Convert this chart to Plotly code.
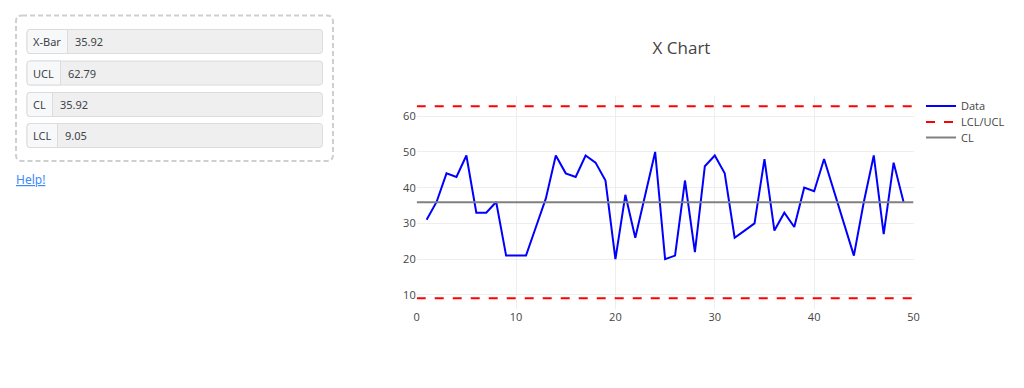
import plotly.graph_objects as go

# ---------------- data ----------------
x_vals = list(range(1, 50))
data_vals = [31, 36, 44, 43, 49, 33, 33, 36, 21, 21,
             21, 29, 37, 49, 44, 43, 49, 47, 42, 20,
             38, 26, 38, 50, 20, 21, 42, 22, 46, 49,
             44, 26, 28, 30, 48, 28, 33, 29, 40, 39,
             48, 39, 30, 21, 36, 49, 27, 47, 36]
limit_x = [0, 50]
x_bar = 35.92
ucl = 62.79
cl = 35.92
lcl = 9.05
panel_labels = ["X-Bar", "UCL", "CL", "LCL"]
panel_values = ["35.92", "62.79", "35.92", "9.05"]

W, H = 1024, 388


def px(x):
    return x / W


def py(y):
    return 1 - y / H


def rrect(x0, y0, x1, y1, r, left=True, right=True):
    """rounded rectangle path in paper coords from pixel coords"""
    rl = r if left else 0
    rr = r if right else 0
    p = []
    p.append(f"M{px(x0 + rl)},{py(y0)}")
    p.append(f"L{px(x1 - rr)},{py(y0)}")
    if rr:
        p.append(f"Q{px(x1)},{py(y0)} {px(x1)},{py(y0 + rr)}")
    p.append(f"L{px(x1)},{py(y1 - rr)}")
    if rr:
        p.append(f"Q{px(x1)},{py(y1)} {px(x1 - rr)},{py(y1)}")
    p.append(f"L{px(x0 + rl)},{py(y1)}")
    if rl:
        p.append(f"Q{px(x0)},{py(y1)} {px(x0)},{py(y1 - rl)}")
    p.append(f"L{px(x0)},{py(y0 + rl)}")
    if rl:
        p.append(f"Q{px(x0)},{py(y0)} {px(x0 + rl)},{py(y0)}")
    p.append("Z")
    return " ".join(p)


fig = go.Figure()
fig.add_trace(go.Scatter(x=x_vals, y=data_vals, mode="lines", name="Data",
                         line=dict(color="blue", width=2), legend="legend"))
fig.add_trace(go.Scatter(x=limit_x, y=[lcl, lcl], mode="lines", name="LCL/UCL",
                         line=dict(color="red", width=2, dash="dash"), legend="legend2"))
fig.add_trace(go.Scatter(x=limit_x, y=[ucl, ucl], mode="lines", name="UCL",
                         line=dict(color="red", width=2, dash="dash"),
                         showlegend=False))
fig.add_trace(go.Scatter(x=limit_x, y=[cl, cl], mode="lines", name="CL",
                         line=dict(color="grey", width=2), legend="legend3"))

shapes = []
annotations = []

# outer dashed panel
shapes.append(dict(type="path", xref="paper", yref="paper",
                   path=rrect(16, 15.5, 333, 161, 6),
                   line=dict(color="#cfcfcf", width=2, dash="5px,3px"),
                   fillcolor="rgba(0,0,0,0)", layer="above"))

rows = [(29.5, 53.5), (61, 85), (92.5, 116.5), (123.5, 147.5)]
prefix_right = [67.5, 60.5, 52.5, 57.5]
for (y0, y1), pr, lab, val in zip(rows, prefix_right, panel_labels, panel_values):
    shapes.append(dict(type="path", xref="paper", yref="paper",
                       path=rrect(27, y0, 322.5, y1, 3),
                       line=dict(color="#dcdcdc", width=1),
                       fillcolor="#efefef", layer="above"))
    shapes.append(dict(type="path", xref="paper", yref="paper",
                       path=rrect(27, y0, pr, y1, 3, right=False),
                       line=dict(color="#dcdcdc", width=1),
                       fillcolor="#f7f8f9", layer="above"))
    yc = (y0 + y1) / 2
    annotations.append(dict(x=px((27 + pr) / 2), y=py(yc), xref="paper", yref="paper",
                            text=lab, showarrow=False, xanchor="center", yanchor="middle",
                            font=dict(family="Noto Sans, sans-serif", size=11, color="#3d4349")))
    annotations.append(dict(x=px(pr + 5.5), y=py(yc), xref="paper", yref="paper",
                            text=val, showarrow=False, xanchor="left", yanchor="middle",
                            font=dict(family="Noto Sans, sans-serif", size=11, color="#3d4349")))

annotations.append(dict(x=px(14), y=py(179), xref="paper", yref="paper",
                        text="<u>Help!</u>", showarrow=False, xanchor="left", yanchor="middle",
                        font=dict(family="Noto Sans, sans-serif", size=12, color="#3d8af7")))

legend_common = dict(xanchor="left", yanchor="middle", bgcolor="rgba(0,0,0,0)",
                     font=dict(size=11, color="#444"))

fig.update_layout(
    template="none",
    width=W, height=H,
    margin=dict(l=0, r=0, t=0, b=0, autoexpand=False),
    paper_bgcolor="white", plot_bgcolor="white",
    title=dict(text="X Chart", x=681.5 / W, y=py(48.5), xref="paper", yref="paper",
               xanchor="center", yanchor="middle",
               font=dict(size=17, color="#444")),
    xaxis=dict(domain=[px(416.7), px(913.5)], gridcolor="#eee", zeroline=False,
               showline=False, ticks="", tickfont=dict(size=11, color="#444")),
    yaxis=dict(domain=[py(309), py(95.5)], gridcolor="#eee", zeroline=False,
               showline=False, ticks="", tickfont=dict(size=11, color="#444")),
    legend=dict(x=px(921), y=py(106), **legend_common),
    legend2=dict(x=px(921), y=py(122), **legend_common),
    legend3=dict(x=px(921), y=py(137.5), **legend_common),
    shapes=shapes,
    annotations=annotations,
    font=dict(family='"Open Sans", verdana, arial, sans-serif', color="#444"),
)

fig.write_html("out.html", config={"displayModeBar": False},
               post_script="document.body.style.margin='0';")
